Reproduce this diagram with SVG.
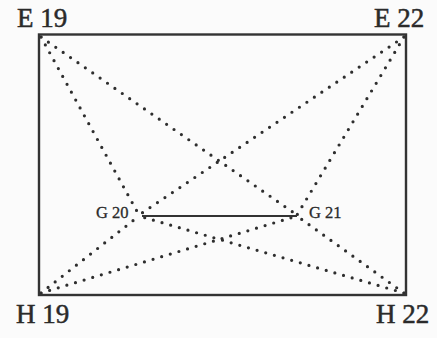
<svg xmlns="http://www.w3.org/2000/svg" width="437" height="338" viewBox="0 0 437 338">
<style>
.bg{fill:#fbfbfb}
.frame{fill:none;stroke:#333;stroke-width:2.4}
.dot{fill:none;stroke:#2e2e2e;stroke-width:3.2;stroke-linecap:round;stroke-dasharray:0 9}
.solid{stroke:#333;stroke-width:2.2}
.big{font-family:"Liberation Serif",serif;font-size:27px;fill:#2a2a2a;stroke:#2a2a2a;stroke-width:0.5}
.small{font-family:"Liberation Serif",serif;font-size:16.5px;fill:#2a2a2a;stroke:#2a2a2a;stroke-width:0.3}
</style>
<rect class="bg" x="0" y="0" width="437" height="338"/>
<g id="connectors">
<line class="dot" x1="41" y1="37" x2="139" y2="215"/>
<line class="dot" x1="41" y1="37" x2="297" y2="215"/>
<line class="dot" x1="404" y1="37" x2="139" y2="215"/>
<line class="dot" x1="404" y1="37" x2="297" y2="215"/>
<line class="dot" x1="41" y1="293" x2="139" y2="216"/>
<line class="dot" x1="41" y1="293" x2="297" y2="216"/>
<line class="dot" x1="404" y1="293" x2="139" y2="216"/>
<line class="dot" x1="404" y1="293" x2="297" y2="216"/>
<line class="solid" x1="142" y1="216" x2="297" y2="216"/>
</g>
<g id="frame"><rect class="frame" x="39" y="34.5" width="367" height="260.5"/></g>
<g id="E19"><text class="big" x="17" y="27">E 19</text></g>
<g id="E22"><text class="big" x="374" y="27">E 22</text></g>
<g id="H19"><text class="big" x="16" y="323">H 19</text></g>
<g id="H22"><text class="big" x="376" y="323">H 22</text></g>
<g id="G20"><text class="small" x="96" y="218">G 20</text></g>
<g id="G21"><text class="small" x="309" y="218">G 21</text></g>
</svg>
